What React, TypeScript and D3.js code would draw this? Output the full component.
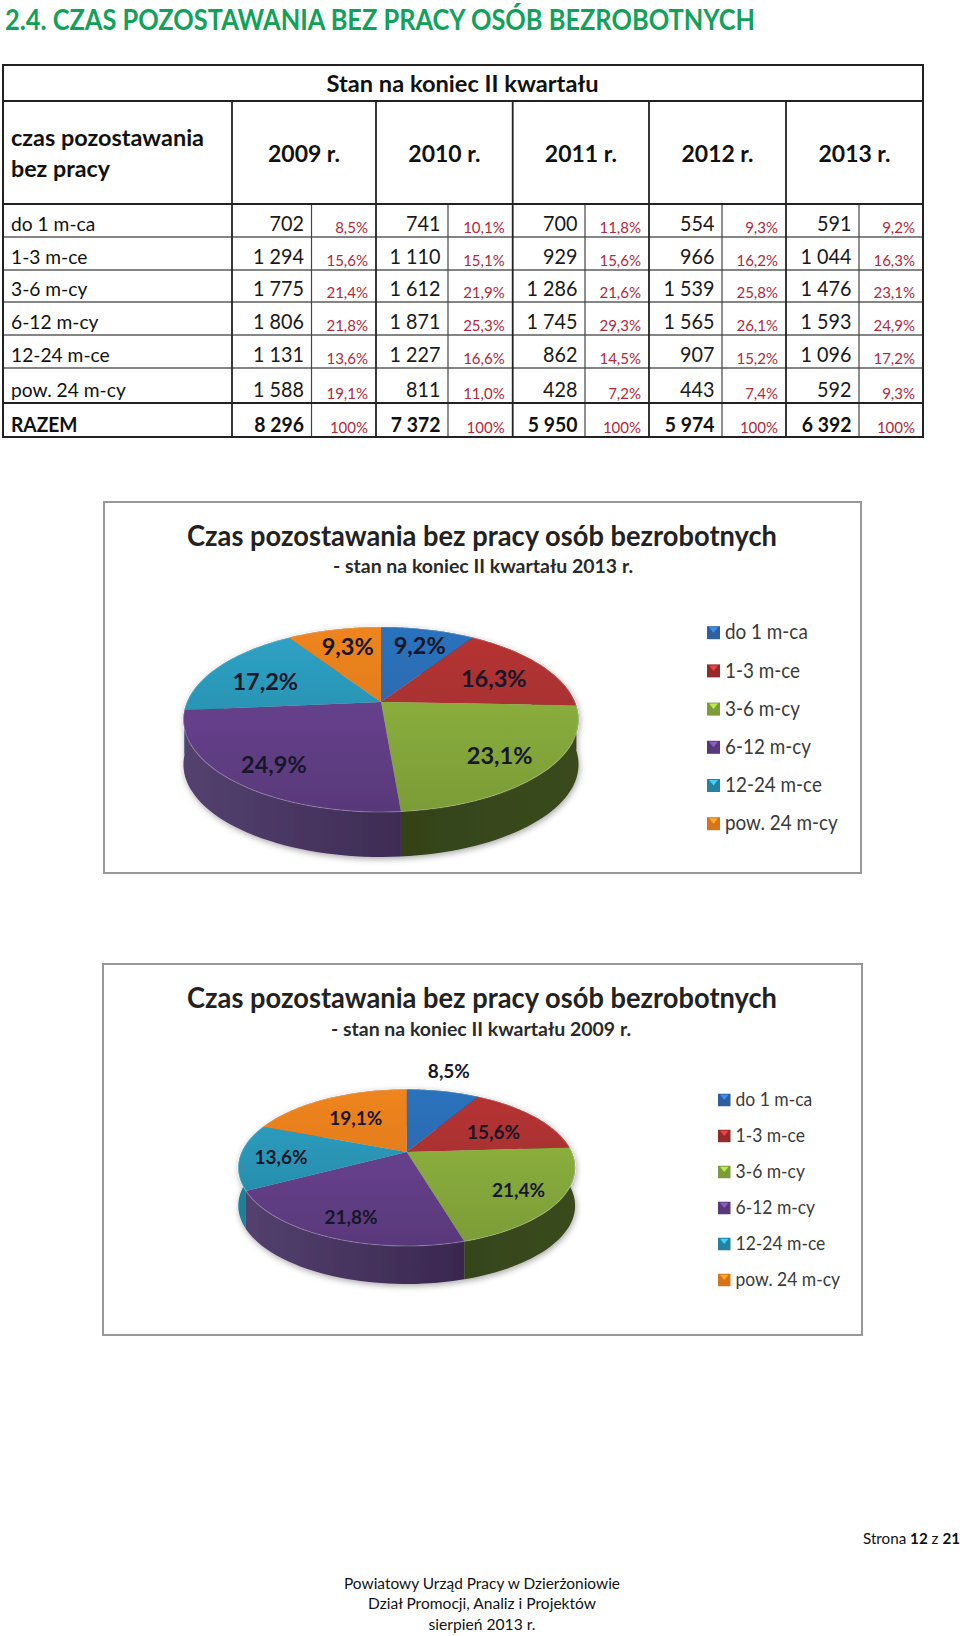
import React, { useRef, useEffect } from "react";
import * as d3 from "d3";

const categories = ["do 1 m-ca", "1-3 m-ce", "3-6 m-cy", "6-12 m-cy", "12-24 m-ce", "pow. 24 m-cy"];
const years = ["2009 r.", "2010 r.", "2011 r.", "2012 r.", "2013 r."];

const counts2009 = [702, 1294, 1775, 1806, 1131, 1588];
const counts2010 = [741, 1110, 1612, 1871, 1227, 811];
const counts2011 = [700, 929, 1286, 1745, 862, 428];
const counts2012 = [554, 966, 1539, 1565, 907, 443];
const counts2013 = [591, 1044, 1476, 1593, 1096, 592];
const totals = [8296, 7372, 5950, 5974, 6392];

const share2009 = [8.5, 15.6, 21.4, 21.8, 13.6, 19.1];
const share2010 = [10.1, 15.1, 21.9, 25.3, 16.6, 11.0];
const share2011 = [11.8, 15.6, 21.6, 29.3, 14.5, 7.2];
const share2012 = [9.3, 16.2, 25.8, 26.1, 15.2, 7.4];
const share2013 = [9.2, 16.3, 23.1, 24.9, 17.2, 9.3];

const allCounts = [counts2009, counts2010, counts2011, counts2012, counts2013];
const allShares = [share2009, share2010, share2011, share2012, share2013];

const topColors = [
  ["#2c72bd", "#2f5f9e"],
  ["#b83434", "#962a2a"],
  ["#93b83e", "#7b9c38"],
  ["#6f4798", "#59387a"],
  ["#2fa3c6", "#23829f"],
  ["#ee8420", "#d5741b"],
];
const wallColors = [
  ["#1f4a7a", "#1a3c63"],
  ["#6e2020", "#561818"],
  ["#2c3915", "#3a4a1c"],
  ["#54416f", "#2b1b3f"],
  ["#1f8299", "#17647a"],
  ["#a85c14", "#8a4a10"],
];

const FONT = "Lato, 'Open Sans', sans-serif";

const charts = [
  {
    id: "a",
    counts: counts2013,
    shares: share2013,
    sub: "- stan na koniec II kwartału 2013 r.",
    frame: { x: 104, y: 502, w: 757, h: 371 },
    titleY: 546,
    subY: 573,
    subX: [333, 633],
    cx: 381,
    cy: 702,
    a: 194,
    b: 89.2,
    c: -0.189,
    depth: 45,
    labelSize: 23.5,
    labelR: [0.75, 0.72, 0.75, 0.75, 0.72, 0.74],
    labelDx: [2, -4, 2, -2, 3, 3],
    labelDy: [0, 5, 3, 5, 6, 1],
    legend: { x: 707, y: 632.7, step: 38.2, size: 13, font: 20.5 },
  },
  {
    id: "b",
    counts: counts2009,
    shares: share2009,
    sub: "- stan na koniec II kwartału 2009 r.",
    frame: { x: 103, y: 964, w: 759, h: 371 },
    titleY: 1008,
    subY: 1036,
    subX: [331, 631],
    cx: 406.7,
    cy: 1152,
    a: 165,
    b: 75.2,
    c: -0.2,
    depth: 38,
    labelSize: 19,
    labelR: [1.36, 0.66, 0.75, 0.75, 0.75, 0.58],
    labelDx: [-4.5, 0, 1, 0, -1, -1.5],
    labelDy: [-2, 5, 3, 5, 2, -1],
    legend: { x: 718, y: 1100, step: 36, size: 12.5, font: 19 },
  },
];

function App() {
  const svgRef = useRef(null);

  useEffect(() => {
    const svg = d3.select(svgRef.current);
    svg.selectAll("*").remove();
    const defs = svg.append("defs");

    const shadow = defs.append("filter").attr("id", "pie-shadow").attr("x", "-10%").attr("y", "-10%").attr("width", "120%").attr("height", "125%");
    shadow.append("feDropShadow").attr("dx", 1).attr("dy", 2).attr("stdDeviation", 3).attr("flood-color", "#000").attr("flood-opacity", 0.35);

    const loc = d3.formatLocale({ decimal: ",", thousands: " ", grouping: [3], currency: ["", ""] });
    const fmtCount = loc.format(",");
    const fmtShare = (d) => loc.format(".1f")(d) + "%";

    const text = (g, x, y, s, size, opts = {}) => {
      const t = g
        .append("text")
        .attr("x", x)
        .attr("y", y)
        .attr("font-family", FONT)
        .attr("font-size", size)
        .attr("font-weight", opts.weight || 400)
        .attr("fill", opts.fill || "#111")
        .attr("text-anchor", opts.anchor || "start")
        .text(s);
      if (opts.len) t.attr("textLength", opts.len).attr("lengthAdjust", "spacingAndGlyphs");
      // Lato runs wider than the original face, narrow it a little
      if (opts.squeeze) t.attr("textLength", t.node().getComputedTextLength() * opts.squeeze).attr("lengthAdjust", "spacingAndGlyphs");
      return t;
    };

    // heading
    text(svg, 5, 30, "2.4. CZAS POZOSTAWANIA BEZ PRACY OSÓB BEZROBOTNYCH", 28, {
      weight: 700,
      fill: "#10a25a",
      len: 750,
    });

    // table
    const table = svg.append("g");
    const colEdges = [232, 376, 512.7, 649, 786, 923];
    const innerEdges = [311.5, 448, 585, 722, 859];
    const rowEdges = [204, 237, 270, 302, 335, 368, 403, 437];
    const left = 3;
    const top = 65;
    const headBottom = 101;

    const hline = (y, x0, x1, w, col) =>
      table.append("line").attr("x1", x0).attr("x2", x1).attr("y1", y).attr("y2", y).attr("stroke", col).attr("stroke-width", w);
    const vline = (x, y0, y1, w, col) =>
      table.append("line").attr("x1", x).attr("x2", x).attr("y1", y0).attr("y2", y1).attr("stroke", col).attr("stroke-width", w);

    rowEdges.slice(1, 6).forEach((y) => hline(y, left, 923, 1.3, "#5c5c5c"));
    innerEdges.forEach((x) => vline(x, 204, 437, 1.2, "#444"));
    colEdges.slice(0, 5).forEach((x) => vline(x, headBottom, 437, 1.8, "#222"));
    vline(left, top, 437, 2, "#222");
    vline(923, top, 437, 2, "#222");
    [top, headBottom, 204, 403, 437].forEach((y) => hline(y, left - 1, 924, 1.8, "#222"));

    text(table, 462.5, 92, "Stan na koniec II kwartału", 23, { weight: 700, anchor: "middle", len: 272 });
    text(table, 11, 146, "czas pozostawania", 23, { weight: 700, len: 193 });
    text(table, 11, 177, "bez pracy", 23, { weight: 700, len: 99 });

    years.forEach((y, i) => {
      const mid = (colEdges[i] + colEdges[i + 1]) / 2;
      text(table, mid, 162, y, 23, { weight: 700, anchor: "middle", len: 72 });
    });

    const rowBottoms = rowEdges.slice(1, 7);
    categories.forEach((c, r) => {
      const b = rowBottoms[r];
      text(table, 11, b - 6, c, 20, { squeeze: 0.96 });
      allCounts.forEach((vals, i) => {
        text(table, innerEdges[i] - 7.5, b - 6.5, fmtCount(vals[r]), 21.5, { anchor: "end", fill: "#1a1a1a", squeeze: 0.92 });
        text(table, colEdges[i + 1] - 8, b - 4, fmtShare(allShares[i][r]), 15, { anchor: "end", fill: "#b3283c" });
      });
    });
    text(table, 11, 432, "RAZEM", 20, { weight: 700, squeeze: 0.96 });
    totals.forEach((v, i) => {
      text(table, innerEdges[i] - 7.5, 432, fmtCount(v), 20, { weight: 700, anchor: "end", squeeze: 0.97 });
      text(table, colEdges[i + 1] - 8, 433, "100%", 15, { anchor: "end", fill: "#b3283c" });
    });

    // pies
    charts.forEach((ch) => {
      const g = svg.append("g");
      const { x, y, w, h } = ch.frame;
      g.append("rect").attr("x", x).attr("y", y).attr("width", w).attr("height", h).attr("fill", "#fff").attr("stroke", "#989898").attr("stroke-width", 2);

      text(g, 187, ch.titleY, "Czas pozostawania bez pracy osób bezrobotnych", 28, { weight: 700, fill: "#222", len: 590 });
      text(g, ch.subX[0], ch.subY, ch.sub, 19, { weight: 700, fill: "#2a2a2a", len: ch.subX[1] - ch.subX[0] });

      // tilted disc: perspective map of the unit circle
      const project = (angle, r = 1) => {
        const u = r * Math.sin(angle);
        const v = -r * Math.cos(angle);
        const d = 1 + ch.c * v;
        return [ch.cx + (ch.a * u) / d, ch.cy + (ch.b * v) / d];
      };

      const pie = d3.pie().sort(null).value((d) => d);
      const arcs = pie(ch.counts);
      const path = d3.line();
      const rimPts = (d) => d3.range(41).map((k) => project(d.startAngle + ((d.endAngle - d.startAngle) * k) / 40));

      const topY = project(0)[1];
      const botY = project(Math.PI)[1];
      const discL = ch.cx - ch.a * 1.02;
      const discR = ch.cx + ch.a * 1.02;

      arcs.forEach((d, i) => {
        const tg = defs.append("linearGradient").attr("id", `top-${ch.id}-${i}`).attr("gradientUnits", "userSpaceOnUse").attr("x1", 0).attr("x2", 0).attr("y1", topY).attr("y2", botY);
        tg.append("stop").attr("offset", 0).attr("stop-color", topColors[i][0]);
        tg.append("stop").attr("offset", 1).attr("stop-color", topColors[i][1]);
        const wg = defs.append("linearGradient").attr("id", `wall-${ch.id}-${i}`).attr("gradientUnits", "userSpaceOnUse").attr("x1", discL).attr("x2", discR).attr("y1", 0).attr("y2", 0);
        wg.append("stop").attr("offset", 0).attr("stop-color", wallColors[i][0]);
        wg.append("stop").attr("offset", 1).attr("stop-color", wallColors[i][1]);
      });

      const disc = g.append("g").attr("filter", "url(#pie-shadow)");

      // side wall, back slices first so the front ones cover them
      const order = d3.range(arcs.length).sort((p, q) => d3.max(rimPts(arcs[p]), (m) => m[1]) - d3.max(rimPts(arcs[q]), (m) => m[1]));
      order.forEach((i) => {
        const rim = rimPts(arcs[i]);
        const lower = rim.map(([px, py]) => [px, py + ch.depth]).reverse();
        disc.append("path").attr("d", path([...rim, ...lower]) + "Z").attr("fill", `url(#wall-${ch.id}-${i})`);
      });

      // top faces
      arcs.forEach((d, i) => {
        disc.append("path").attr("d", path([[ch.cx, ch.cy], ...rimPts(d)]) + "Z").attr("fill", `url(#top-${ch.id}-${i})`);
      });

      // light bevel along the rim
      arcs.forEach((d) => {
        disc.append("path").attr("d", path(rimPts(d))).attr("fill", "none").attr("stroke", "#fff").attr("stroke-opacity", 0.22).attr("stroke-width", 1.2);
      });

      // value labels
      arcs.forEach((d, i) => {
        const mid = (d.startAngle + d.endAngle) / 2;
        const [lx, ly] = project(mid, ch.labelR[i]);
        text(g, lx + ch.labelDx[i], ly + ch.labelDy[i] + ch.labelSize * 0.35, fmtShare(ch.shares[i]), ch.labelSize, { weight: 700, anchor: "middle", fill: "#17172a" });
      });

      // legend
      const leg = ch.legend;
      categories.forEach((c, i) => {
        const ly = leg.y + i * leg.step;
        const s = leg.size;
        g.append("rect").attr("x", leg.x).attr("y", ly - s / 2).attr("width", s).attr("height", s).attr("fill", topColors[i][1]);
        g.append("path")
          .attr("d", path([[leg.x + 2, ly - s / 2 + 1], [leg.x + s - 2, ly - s / 2 + 1], [leg.x + s / 2, ly]]) + "Z")
          .attr("fill", d3.color(topColors[i][0]).brighter(0.7).formatHex());
        text(g, leg.x + s + 5, ly + leg.font * 0.33, c, leg.font, { fill: "#3a3a3a", squeeze: 0.92 });
      });
    });

    // page footer
    const foot = svg.append("g");
    const strona = foot.append("text").attr("x", 960).attr("y", 1544).attr("text-anchor", "end").attr("font-family", FONT).attr("font-size", 15.2).attr("fill", "#111");
    strona.append("tspan").text("Strona ");
    strona.append("tspan").attr("font-weight", 700).text("12");
    strona.append("tspan").text(" z ");
    strona.append("tspan").attr("font-weight", 700).text("21");
    text(foot, 482, 1589, "Powiatowy Urząd Pracy w Dzierżoniowie", 15.5, { anchor: "middle", len: 276 });
    text(foot, 482, 1609, "Dział Promocji, Analiz i Projektów", 15.5, { anchor: "middle", len: 228 });
    text(foot, 482, 1630, "sierpień 2013 r.", 15.5, { anchor: "middle", len: 107 });
  }, []);

  return <svg ref={svgRef} width={960} height={1636} style={{ position: "absolute", left: 0, top: 0, display: "block" }} />;
}

export default App;
